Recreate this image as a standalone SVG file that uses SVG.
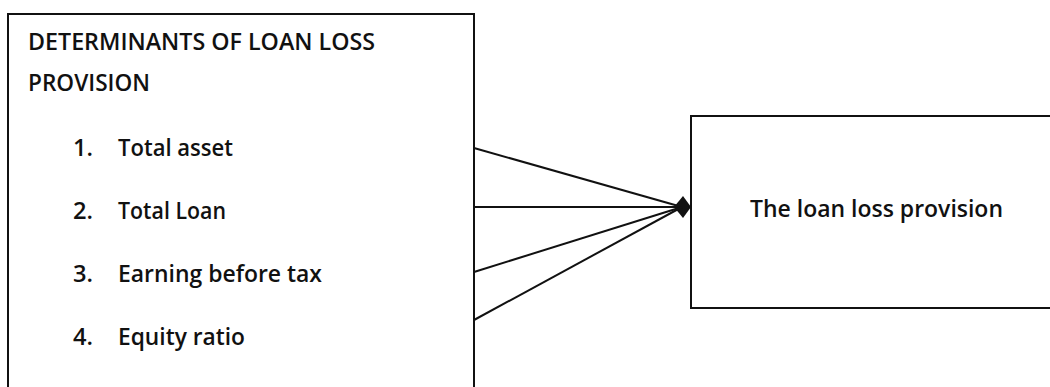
<svg xmlns="http://www.w3.org/2000/svg" width="1050" height="387" viewBox="0 0 1050 387">
<style>
.box{fill:#fff;stroke:#111;stroke-width:2}
.t{font-family:"Open Sans","Liberation Sans",sans-serif;font-size:23px;font-weight:600;fill:#111}
.c{stroke:#111;stroke-width:2;fill:none}
</style>
<defs>
<marker id="head" viewBox="0 0 17 24" refX="16" refY="12" markerWidth="17" markerHeight="24" markerUnits="userSpaceOnUse" orient="auto">
<path d="M0,12 L9,1 L17,12 L9,23 Z" fill="#111"/>
</marker>
</defs>
<rect width="1050" height="387" fill="#fff"/>
<g id="determinants">
<rect class="box" x="8" y="14" width="466" height="420"/>
<text class="t" x="28" y="50" textLength="347" lengthAdjust="spacingAndGlyphs">DETERMINANTS OF LOAN LOSS</text>
<text class="t" x="28" y="91" textLength="122" lengthAdjust="spacingAndGlyphs">PROVISION</text>
<text class="t" x="73" y="156" textLength="20" lengthAdjust="spacingAndGlyphs">1.</text>
<text class="t" x="118" y="156" textLength="115" lengthAdjust="spacingAndGlyphs">Total asset</text>
<text class="t" x="73" y="219" textLength="20" lengthAdjust="spacingAndGlyphs">2.</text>
<text class="t" x="118" y="219" textLength="108" lengthAdjust="spacingAndGlyphs">Total Loan</text>
<text class="t" x="73" y="282" textLength="20" lengthAdjust="spacingAndGlyphs">3.</text>
<text class="t" x="118" y="282" textLength="204" lengthAdjust="spacingAndGlyphs">Earning before tax</text>
<text class="t" x="73" y="345" textLength="20" lengthAdjust="spacingAndGlyphs">4.</text>
<text class="t" x="118" y="345" textLength="127" lengthAdjust="spacingAndGlyphs">Equity ratio</text>
</g>
<g id="loan-loss-provision">
<rect class="box" x="691" y="116" width="400" height="192"/>
<text class="t" x="750" y="217" textLength="253" lengthAdjust="spacingAndGlyphs">The loan loss provision</text>
</g>
<g id="connectors">
<line class="c" x1="474" y1="148" x2="682" y2="207"/>
<line class="c" x1="474" y1="207" x2="690" y2="207" marker-end="url(#head)"/>
<line class="c" x1="474" y1="272" x2="682" y2="207"/>
<line class="c" x1="474" y1="320" x2="682" y2="207"/>
</g>
</svg>
